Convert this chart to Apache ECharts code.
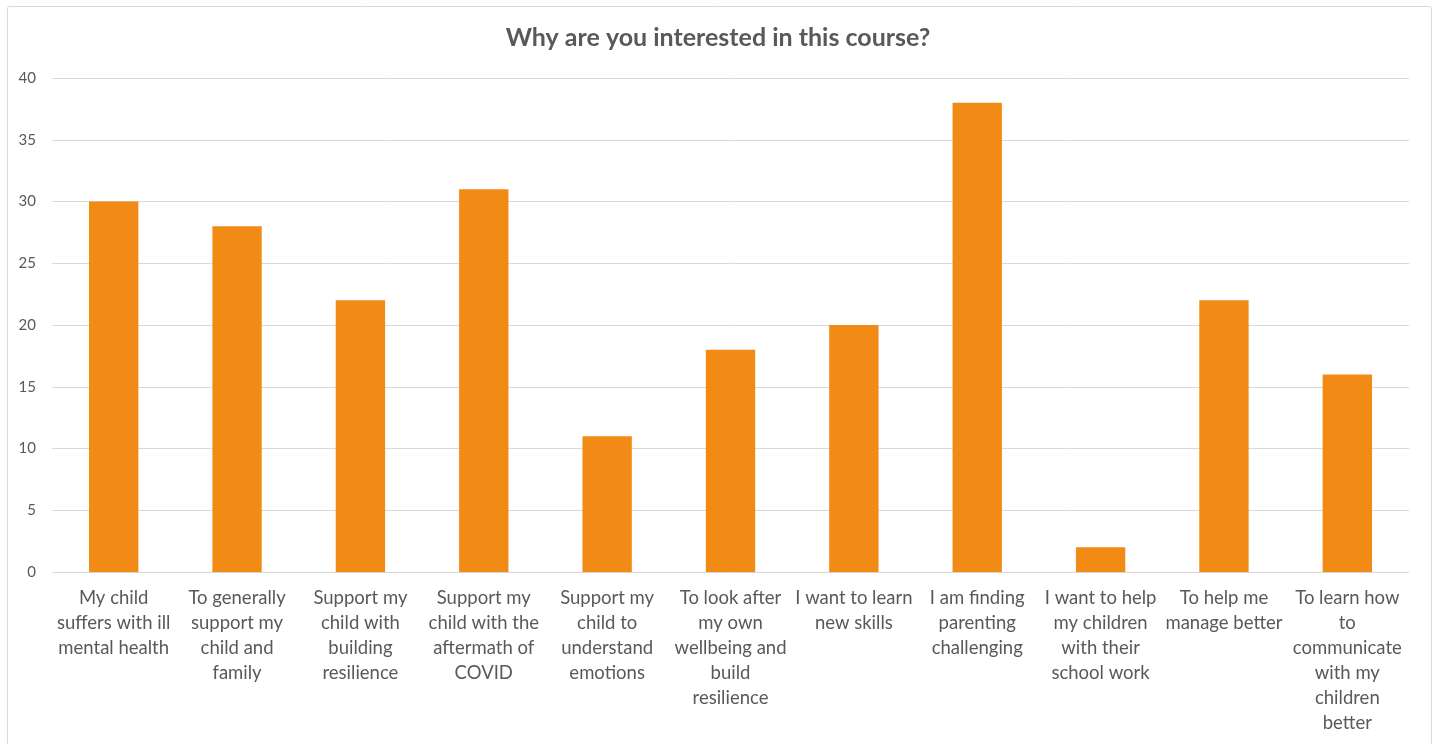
<!DOCTYPE html>
<html>
<head>
<meta charset="utf-8">
<script src="https://cdn.jsdelivr.net/npm/echarts@6/dist/echarts.min.js"></script>
<style>
  html, body { margin: 0; padding: 0; background: #ffffff; }
  #chart { width: 1436px; height: 744px; }
</style>
</head>
<body>
<div id="chart"></div>
<script>
// Survey answers, wrapped the way they appear under each bar
const categories = [
  'My child\nsuffers with ill\nmental health',
  'To generally\nsupport my\nchild and\nfamily',
  'Support my\nchild with\nbuilding\nresilience',
  'Support my\nchild with the\naftermath of\nCOVID',
  'Support my\nchild to\nunderstand\nemotions',
  'To look after\nmy own\nwellbeing and\nbuild\nresilience',
  'I want to learn\nnew skills',
  'I am finding\nparenting\nchallenging',
  'I want to help\nmy children\nwith their\nschool work',
  'To help me\nmanage better',
  'To learn how\nto\ncommunicate\nwith my\nchildren\nbetter'
];
const responses = [30, 28, 22, 31, 11, 18, 20, 38, 2, 22, 16];
const yTicks = { min: 0, max: 40, interval: 5 };

const textColor = '#595959';
const fontFamily = 'Lato, "Open Sans", sans-serif';

const chart = echarts.init(document.getElementById('chart'), null, { renderer: 'canvas' });
chart.setOption({
  backgroundColor: '#ffffff',
  animation: false,
  graphic: [{
    type: 'rect',
    left: 5, top: 4,
    shape: { width: 1424, height: 760, r: 2 },
    style: { fill: 'none', stroke: '#d9d9d9', lineWidth: 1 },
    silent: true
  }],
  title: {
    text: 'Why are you interested in this course?',
    left: 'center',
    top: 20,
    textStyle: { color: textColor, fontSize: 25, fontWeight: 'bold', fontFamily: fontFamily }
  },
  grid: { left: 52, right: 27, top: 78, bottom: 172, containLabel: false },
  xAxis: {
    type: 'category',
    data: categories,
    axisLine: { show: true, lineStyle: { color: '#d9d9d9', width: 1 } },
    axisTick: { show: false },
    axisLabel: {
      interval: 0,
      color: textColor,
      fontSize: 18.5,
      fontFamily: fontFamily,
      lineHeight: 25,
      margin: 14,
      align: 'center'
    }
  },
  yAxis: {
    type: 'value',
    min: yTicks.min,
    max: yTicks.max,
    interval: yTicks.interval,
    axisLine: { show: false },
    axisTick: { show: false },
    splitLine: { lineStyle: { color: '#d9d9d9', width: 1 } },
    axisLabel: { color: textColor, fontSize: 15, fontFamily: fontFamily, margin: 16 }
  },
  series: [{
    type: 'bar',
    data: responses,
    barCategoryGap: '60%',
    itemStyle: { color: '#f28b16' }
  }]
});
</script>
</body>
</html>
